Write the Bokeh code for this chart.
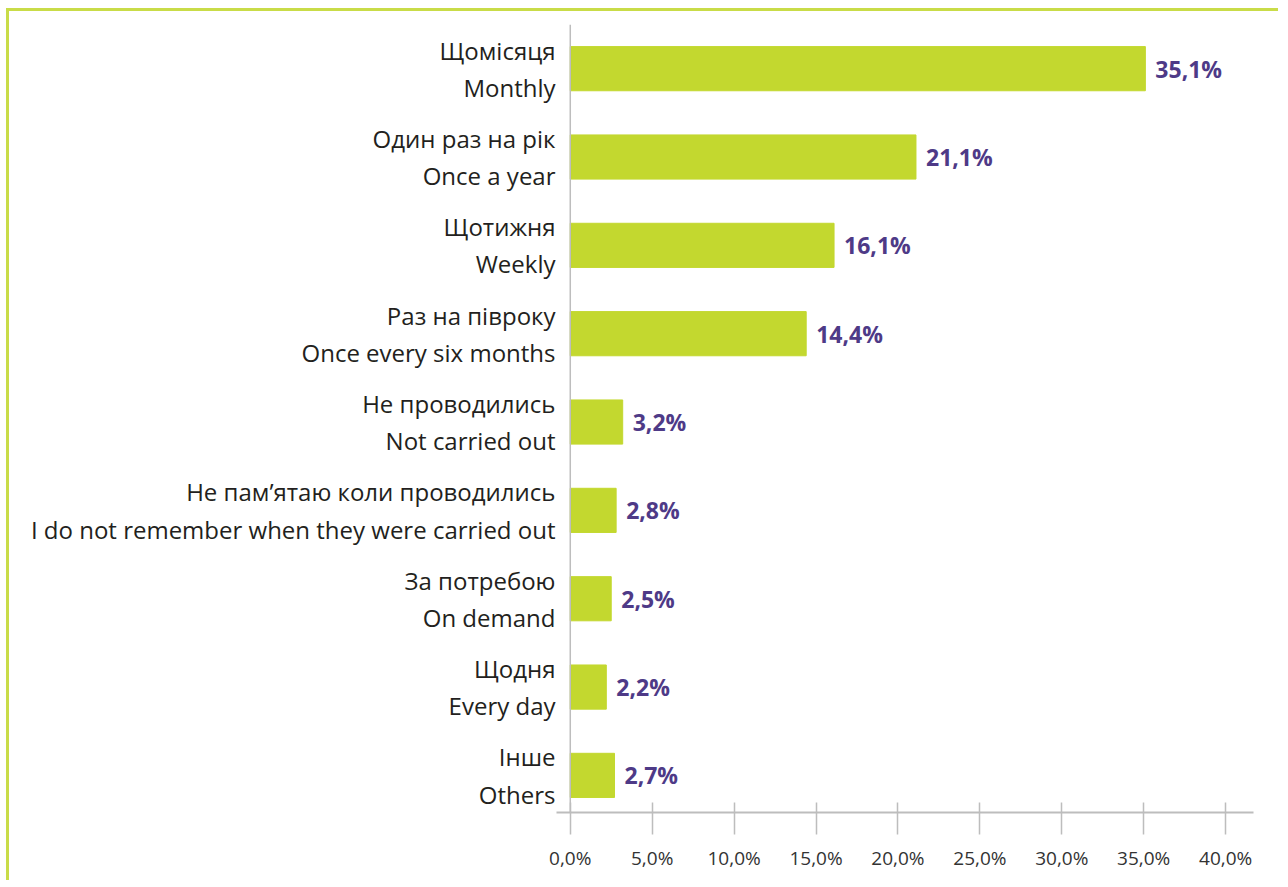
from bokeh.plotting import figure
from bokeh.models import Range1d, FixedTicker, ColumnDataSource, Span
from bokeh.core.properties import value
from bokeh.embed import file_html
from bokeh.resources import INLINE

labels_ua = ["Щомісяця", "Один раз на рік", "Щотижня", "Раз на півроку", "Не проводились",
             "Не пам’ятаю коли проводились", "За потребою", "Щодня", "Інше"]
labels_en = ["Monthly", "Once a year", "Weekly", "Once every six months", "Not carried out",
             "I do not remember when they were carried out", "On demand", "Every day", "Others"]
values = [35.1, 21.1, 16.1, 14.4, 3.2, 2.8, 2.5, 2.2, 2.7]
value_labels = ["35,1%", "21,1%", "16,1%", "14,4%", "3,2%", "2,8%", "2,5%", "2,2%", "2,7%"]
x_ticks = [0, 5, 10, 15, 20, 25, 30, 35, 40]
x_tick_labels = ["0,0%", "5,0%", "10,0%", "15,0%", "20,0%", "25,0%", "30,0%", "35,0%", "40,0%"]

n = len(values)
ypos = [n - 1 - i for i in range(n)]
cat_labels = [ua + "\n" + en for ua, en in zip(labels_ua, labels_en)]

BAR = "#c3d82f"
PURPLE = "#4e3a87"
TEXT = "#231f20"
GRID = "#bdbdbd"

p = figure(width=1272, height=872, output_backend="svg", toolbar_location=None,
           x_range=Range1d(-0.84, 41.7), y_range=Range1d(-0.42, 8.5),
           min_border_left=547, min_border_right=28, min_border_top=13, min_border_bottom=71)
p.styles = {"border-top": "3px solid #c9dc48", "border-left": "3px solid #c9dc48",
            "margin-left": "6px", "margin-top": "8px"}
p.outline_line_color = None
p.grid.visible = False

src = ColumnDataSource(dict(y=ypos, v=values, lab=value_labels))
p.hbar(y="y", right="v", left=0, height=0.5, color=BAR, source=src)
p.text(x="v", y="y", text="lab", source=src, x_offset=10, text_baseline="middle",
       text_align="left", text_color=PURPLE, text_font=value("Open Sans"),
       text_font_style="bold", text_font_size="23px")

p.add_layout(Span(location=0, dimension="height", line_color=GRID, line_width=1.5))

xa = p.xaxis[0]
xa.ticker = FixedTicker(ticks=x_ticks)
xa.major_label_overrides = {t: l for t, l in zip(x_ticks, x_tick_labels)}
xa.axis_line_color = GRID
xa.axis_line_width = 2
xa.major_tick_line_color = GRID
xa.major_tick_line_width = 1.5
xa.major_tick_in = 10
xa.major_tick_out = 22
xa.minor_tick_line_color = None
xa.major_label_standoff = 10
xa.major_label_text_font = "Open Sans"
xa.major_label_text_font_size = "19px"
xa.major_label_text_color = "#333333"

ya = p.yaxis[0]
ya.ticker = FixedTicker(ticks=ypos)
ya.major_label_overrides = {y: l for y, l in zip(ypos, cat_labels)}
ya.axis_line_color = None
ya.major_tick_line_color = None
ya.minor_tick_line_color = None
ya.major_tick_in = 0
ya.major_tick_out = 0
ya.minor_tick_in = 0
ya.minor_tick_out = 0
ya.major_label_standoff = 1
ya.major_label_text_font = "Open Sans"
ya.major_label_text_font_size = "24px"
ya.major_label_text_color = TEXT
ya.major_label_text_align = "right"
ya.major_label_text_line_height = 1.13

open("out.html", "w").write(file_html(p, INLINE))
